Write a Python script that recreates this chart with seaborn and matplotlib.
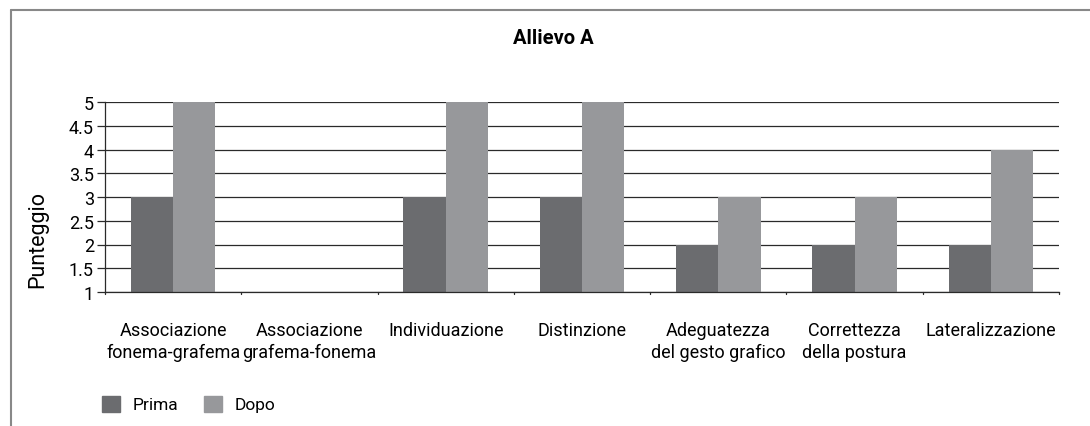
import pandas as pd
import numpy as np
import matplotlib.pyplot as plt
import seaborn as sns
from matplotlib.lines import Line2D

categories = ['Associazione\nfonema-grafema', 'Associazione\ngrafema-fonema', 'Individuazione',
              'Distinzione', 'Adeguatezza\ndel gesto grafico', 'Correttezza\ndella postura',
              'Lateralizzazione']
prima = [3, np.nan, 3, 3, 2, 2, 2]
dopo = [5, np.nan, 5, 5, 3, 3, 4]
y_ticks = [1, 1.5, 2, 2.5, 3, 3.5, 4, 4.5, 5]
y_tick_labels = ['1', '1.5', '2', '2.5', '3', '3.5', '4', '4.5', '5']

df = pd.DataFrame({
    'categoria': categories * 2,
    'serie': ['Prima'] * len(categories) + ['Dopo'] * len(categories),
    'valore': prima + dopo,
})

sns.set_style('white')
plt.rcParams['font.family'] = ['Roboto', 'DejaVu Sans']
plt.rcParams['text.color'] = 'black'
plt.rcParams['xtick.color'] = 'black'
plt.rcParams['ytick.color'] = 'black'
plt.rcParams['axes.labelcolor'] = 'black'

fig = plt.figure(figsize=(10.9, 4.27), dpi=100)
ax = fig.add_axes([105 / 1090, 1 - 293 / 427, (1059 - 105) / 1090, (293 - 103) / 427])

sns.barplot(data=df, x='categoria', y='valore', hue='serie', order=categories,
            hue_order=['Prima', 'Dopo'], palette=['#6b6c6f', '#97989b'],
            width=0.62, bottom=0, ax=ax, legend=False, saturation=1, linewidth=0)

ax.set_ylim(1, 5)
ax.set_xlim(-0.5, len(categories) - 0.5)
ax.set_yticks(y_ticks)
ax.set_yticklabels(y_tick_labels, fontsize=13)
ax.yaxis.grid(True, color='#2a2a2a', linewidth=0.9)
ax.set_axisbelow(True)

ax.set_xticks(np.arange(len(categories)))
ax.set_xticklabels(categories, fontsize=13, linespacing=1.3)
ax.tick_params(axis='x', length=0, pad=21)
ax.tick_params(axis='y', length=6, width=0.9, color='#2a2a2a', direction='out', pad=2, left=True)
for b in np.arange(len(categories) + 1) - 0.5:
    ax.plot([b, b], [1, 0.96], color='#2a2a2a', linewidth=0.9, clip_on=False)

for s in ['top', 'right']:
    ax.spines[s].set_visible(False)
ax.spines['left'].set_color('#2a2a2a')
ax.spines['bottom'].set_color('#2a2a2a')
ax.spines['left'].set_linewidth(0.9)
ax.spines['bottom'].set_linewidth(0.9)

ax.set_xlabel('')
ax.set_ylabel('')
fig.text(38 / 1090, 1 - 240 / 427, 'Punteggio', rotation=90, ha='center', va='center', fontsize=15.5)

fig.text(553 / 1090, 1 - 38 / 427, 'Allievo A', ha='center', va='center',
         fontsize=14.5, fontweight='bold')

# legend
handles = [plt.Rectangle((0, 0), 1, 1, color='#6b6c6f'), plt.Rectangle((0, 0), 1, 1, color='#97989b')]
fig.legend(handles, ['Prima', 'Dopo'], loc='center left',
           bbox_to_anchor=(102 / 1090, 1 - 405 / 427), ncol=2, frameon=False,
           fontsize=12.5, handlelength=1.05, handleheight=1.05, columnspacing=1.5,
           handletextpad=0.7, borderpad=0, borderaxespad=0)

# partial frame around the figure
fig.add_artist(Line2D([11 / 1090, 1], [1 - 11 / 427, 1 - 11 / 427], color='#888888', linewidth=1.5))
fig.add_artist(Line2D([11 / 1090, 11 / 1090], [0, 1 - 11 / 427], color='#888888', linewidth=1.5))

fig.savefig('out.png', dpi=100)
